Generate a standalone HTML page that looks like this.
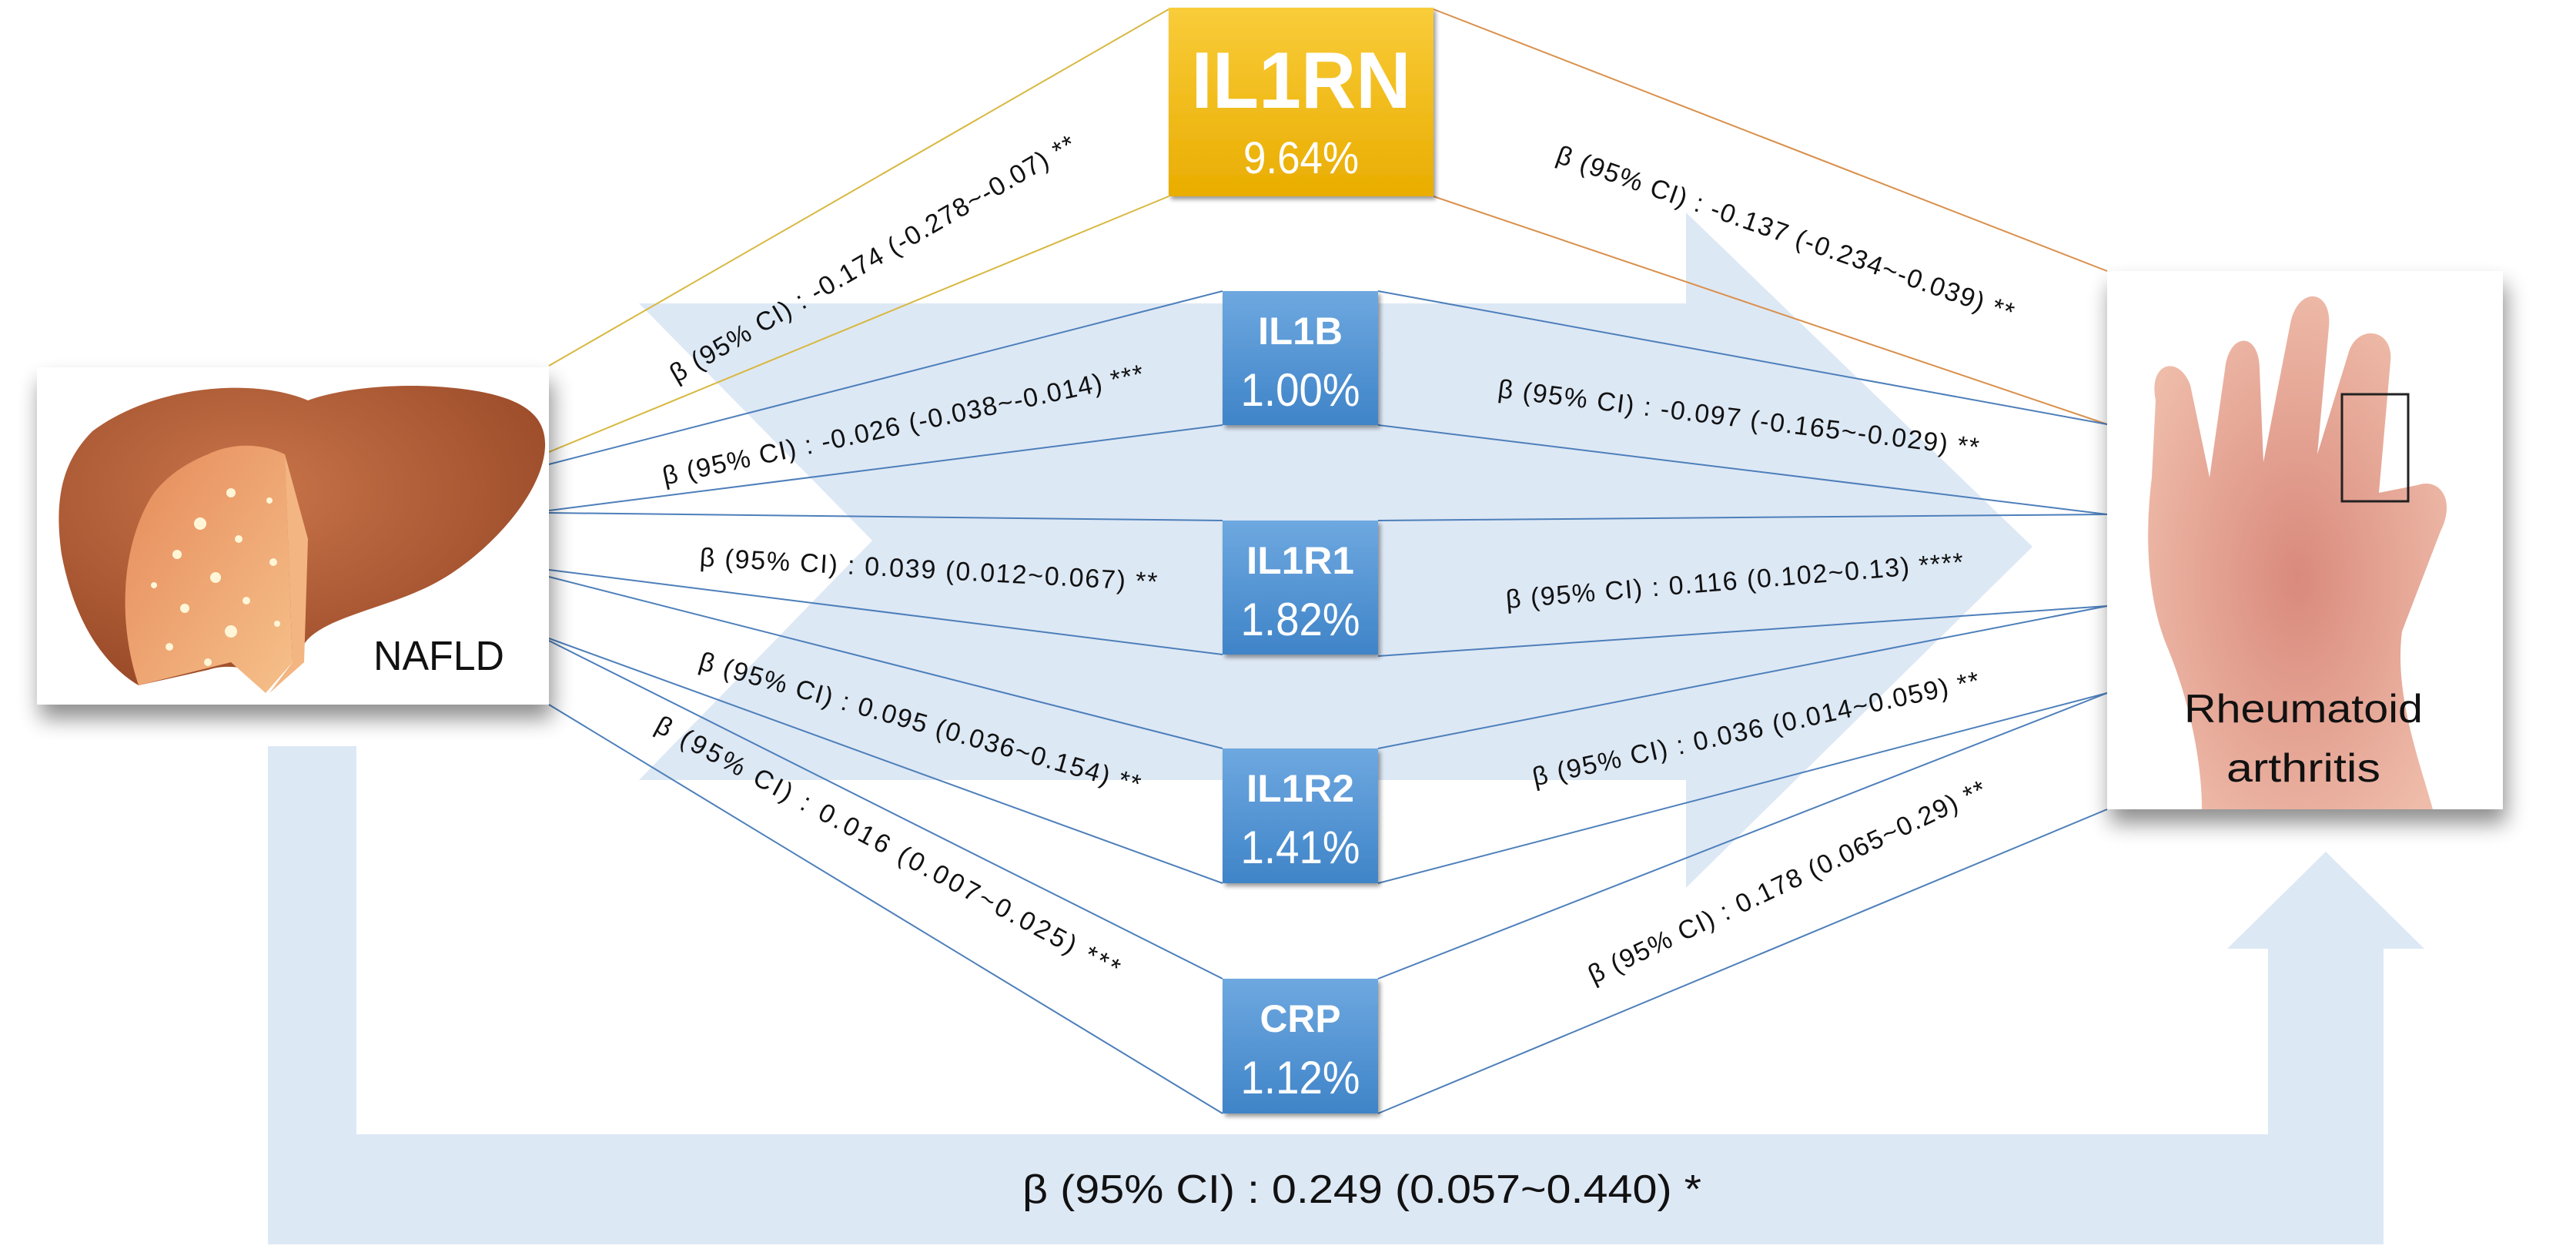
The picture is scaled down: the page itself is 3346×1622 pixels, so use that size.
<!DOCTYPE html>
<html><head><meta charset="utf-8"><style>
html,body{margin:0;padding:0;background:#fff;}
svg{display:block;}
text{font-family:"Liberation Sans",sans-serif;}
</style></head><body>
<svg width="3346" height="1622" viewBox="0 0 3346 1622" xmlns="http://www.w3.org/2000/svg">
<defs>
<linearGradient id="gold" x1="0" y1="0" x2="0" y2="1"><stop offset="0" stop-color="#f9cc3a"/><stop offset="1" stop-color="#e9ad00"/></linearGradient>
<linearGradient id="blue" x1="0" y1="0" x2="0" y2="1"><stop offset="0" stop-color="#6ea8e0"/><stop offset="1" stop-color="#3f84c8"/></linearGradient>
<filter id="sh" x="-20%" y="-20%" width="140%" height="150%"><feGaussianBlur in="SourceAlpha" stdDeviation="14"/><feOffset dx="4" dy="18"/><feComponentTransfer><feFuncA type="linear" slope="0.45"/></feComponentTransfer><feMerge><feMergeNode/><feMergeNode in="SourceGraphic"/></feMerge></filter>
<filter id="sh2" x="-20%" y="-20%" width="140%" height="140%"><feGaussianBlur in="SourceAlpha" stdDeviation="3"/><feOffset dx="3" dy="4"/><feComponentTransfer><feFuncA type="linear" slope="0.4"/></feComponentTransfer><feMerge><feMergeNode/><feMergeNode in="SourceGraphic"/></feMerge></filter>
<radialGradient id="liv" cx="0.4" cy="0.35" r="0.7"><stop offset="0" stop-color="#c8744a"/><stop offset="1" stop-color="#9a4a28"/></radialGradient>
<linearGradient id="cut" x1="0" y1="0" x2="1" y2="1"><stop offset="0" stop-color="#e58a5a"/><stop offset="1" stop-color="#f6c08a"/></linearGradient>
<radialGradient id="hand" cx="0.5" cy="0.55" r="0.6"><stop offset="0" stop-color="#d98a7c"/><stop offset="1" stop-color="#efbcaa"/></radialGradient>
</defs>

<polygon points="830,394 2190,394 2190,276 2640,710 2190,1153 2190,1013 830,1013 1133,702" fill="#dde8f5"/>
<polygon points="348,969 463,969 463,1473 2946,1473 2946,1232 2893,1232 3021,1106 3149,1232 3096,1232 3096,1616 348,1616" fill="#dde8f5"/>

<g fill="none" stroke-width="2">
<line x1="713" y1="475" x2="1518" y2="12" stroke="#d8b840"/>
<line x1="713" y1="587" x2="1518" y2="255" stroke="#d8b840"/>
<line x1="1862" y1="12" x2="2737" y2="352" stroke="#d9904c"/>
<line x1="1862" y1="255" x2="2737" y2="551" stroke="#d9904c"/>
<g stroke="#4d7fba">
<line x1="713" y1="603" x2="1588" y2="378"/>
<line x1="713" y1="663" x2="1588" y2="552"/>
<line x1="713" y1="666" x2="1588" y2="676"/>
<line x1="713" y1="740" x2="1588" y2="850"/>
<line x1="713" y1="749" x2="1588" y2="972"/>
<line x1="713" y1="829" x2="1588" y2="1147"/>
<line x1="713" y1="832" x2="1588" y2="1271"/>
<line x1="713" y1="915" x2="1588" y2="1446"/>
<line x1="1790" y1="378" x2="2737" y2="551"/>
<line x1="1790" y1="552" x2="2737" y2="668"/>
<line x1="1790" y1="676" x2="2737" y2="668"/>
<line x1="1790" y1="852" x2="2737" y2="787"/>
<line x1="1790" y1="972" x2="2737" y2="787"/>
<line x1="1790" y1="1147" x2="2737" y2="900"/>
<line x1="1790" y1="1271" x2="2737" y2="900"/>
<line x1="1790" y1="1446" x2="2737" y2="1051"/>
</g></g>

<rect x="1518" y="10" width="344" height="245" fill="url(#gold)" filter="url(#sh2)"/>
<text x="1690" y="140" font-size="104" font-weight="bold" fill="#fff" text-anchor="middle" textLength="285" lengthAdjust="spacingAndGlyphs">IL1RN</text>
<text x="1690" y="225" font-size="58" fill="#fff" text-anchor="middle" textLength="150" lengthAdjust="spacingAndGlyphs">9.64%</text>
<g fill="url(#blue)" filter="url(#sh2)">
<rect x="1588" y="378" width="202" height="174"/>
<rect x="1588" y="676" width="202" height="174"/>
<rect x="1588" y="972" width="202" height="175"/>
<rect x="1588" y="1271" width="202" height="175"/>
</g>
<g fill="#fff" text-anchor="middle">
<text x="1689" y="447" font-size="50" font-weight="bold" textLength="110" lengthAdjust="spacingAndGlyphs">IL1B</text>
<text x="1689" y="527" font-size="60" textLength="155" lengthAdjust="spacingAndGlyphs">1.00%</text>
<text x="1689" y="745" font-size="50" font-weight="bold" textLength="140" lengthAdjust="spacingAndGlyphs">IL1R1</text>
<text x="1689" y="825" font-size="60" textLength="155" lengthAdjust="spacingAndGlyphs">1.82%</text>
<text x="1689" y="1041" font-size="50" font-weight="bold" textLength="140" lengthAdjust="spacingAndGlyphs">IL1R2</text>
<text x="1689" y="1121" font-size="60" textLength="155" lengthAdjust="spacingAndGlyphs">1.41%</text>
<text x="1689" y="1340" font-size="50" font-weight="bold" textLength="105" lengthAdjust="spacingAndGlyphs">CRP</text>
<text x="1689" y="1420" font-size="60" textLength="155" lengthAdjust="spacingAndGlyphs">1.12%</text>
</g>

<rect x="48" y="477" width="665" height="438" fill="#fff" filter="url(#sh)"/>
<path d="M120,560 C200,500 330,490 400,520 C440,505 520,495 600,505 C680,515 720,540 705,600 C690,660 620,730 560,760 C500,790 430,800 400,830 L360,880 C330,870 300,860 270,870 L180,890 C130,860 95,800 80,720 C70,650 80,600 120,560 Z" fill="url(#liv)"/>
<path d="M270,590 C300,575 340,575 370,590 L380,860 L345,900 L300,860 L180,890 C150,800 160,700 200,640 C220,615 245,600 270,590 Z" fill="url(#cut)"/>
<path d="M370,590 L400,700 L395,860 L350,900 L380,860 Z" fill="#f3b582"/>
<g fill="#fff6d8">
<circle cx="300" cy="640" r="6"/><circle cx="260" cy="680" r="8"/><circle cx="310" cy="700" r="5"/><circle cx="230" cy="720" r="6"/><circle cx="280" cy="750" r="7"/><circle cx="320" cy="780" r="5"/><circle cx="240" cy="790" r="6"/><circle cx="300" cy="820" r="8"/><circle cx="220" cy="840" r="5"/><circle cx="350" cy="650" r="4"/><circle cx="355" cy="730" r="5"/><circle cx="360" cy="810" r="4"/><circle cx="270" cy="860" r="5"/><circle cx="200" cy="760" r="4"/>
</g>
<text x="485" y="870" font-size="54" fill="#111" textLength="170" lengthAdjust="spacingAndGlyphs">NAFLD</text>

<rect x="2737" y="352" width="514" height="699" fill="#fff" filter="url(#sh)"/>
<path d="M2800,520 C2790,470 2830,460 2845,500 L2870,620 L2890,480 C2895,430 2935,430 2935,480 L2940,600 L2975,420 C2985,370 3030,375 3025,425 L3010,590 L3050,460 C3060,420 3110,425 3105,470 L3090,640 L3140,630 C3170,620 3190,650 3170,690 L3120,820 C3110,900 3140,980 3160,1051 L2860,1051 C2860,980 2840,900 2815,840 C2790,780 2785,700 2795,620 Z" fill="url(#hand)"/>
<rect x="3042" y="512" width="86" height="139" fill="none" stroke="#222" stroke-width="3"/>
<text x="2992" y="938" font-size="52" fill="#111" text-anchor="middle" textLength="310" lengthAdjust="spacingAndGlyphs">Rheumatoid</text>
<text x="2992" y="1015" font-size="52" fill="#111" text-anchor="middle" textLength="200" lengthAdjust="spacingAndGlyphs">arthritis</text>

<g font-size="34" fill="#111" dominant-baseline="central" lengthAdjust="spacingAndGlyphs">
<text x="873" y="488" transform="rotate(-30.2 873 488)" textLength="603">β (95% CI) : -0.174 (-0.278~-0.07) **</text>
<text x="861" y="619" transform="rotate(-12.1 861 619)" textLength="638">β (95% CI) : -0.026 (-0.038~-0.014) ***</text>
<text x="909" y="724" transform="rotate(3.1 909 724)" textLength="595">β (95% CI) : 0.039 (0.012~0.067) **</text>
<text x="909" y="858" transform="rotate(15.8 909 858)" textLength="594">β (95% CI) : 0.095 (0.036~0.154) **</text>
<text x="854" y="939" transform="rotate(28.2 854 939)" textLength="679">β (95% CI) : 0.016 (0.007~0.025) ***</text>
<text x="2023" y="200" transform="rotate(19.3 2023 200)" textLength="627">β (95% CI) : -0.137 (-0.234~-0.039) **</text>
<text x="1946" y="505" transform="rotate(7.0 1946 505)" textLength="629">β (95% CI) : -0.097 (-0.165~-0.029) **</text>
<text x="1956" y="779" transform="rotate(-4.7 1956 779)" textLength="596">β (95% CI) : 0.116 (0.102~0.13) ****</text>
<text x="1991" y="1010" transform="rotate(-12.3 1991 1010)" textLength="593">β (95% CI) : 0.036 (0.014~0.059) **</text>
<text x="2065" y="1268" transform="rotate(-25.5 2065 1268)" textLength="568">β (95% CI) : 0.178 (0.065~0.29) **</text>
</g>
<text x="1328" y="1562" font-size="52" fill="#111" textLength="882" lengthAdjust="spacingAndGlyphs">β (95% CI) : 0.249 (0.057~0.440) *</text>
</svg>
</body></html>
